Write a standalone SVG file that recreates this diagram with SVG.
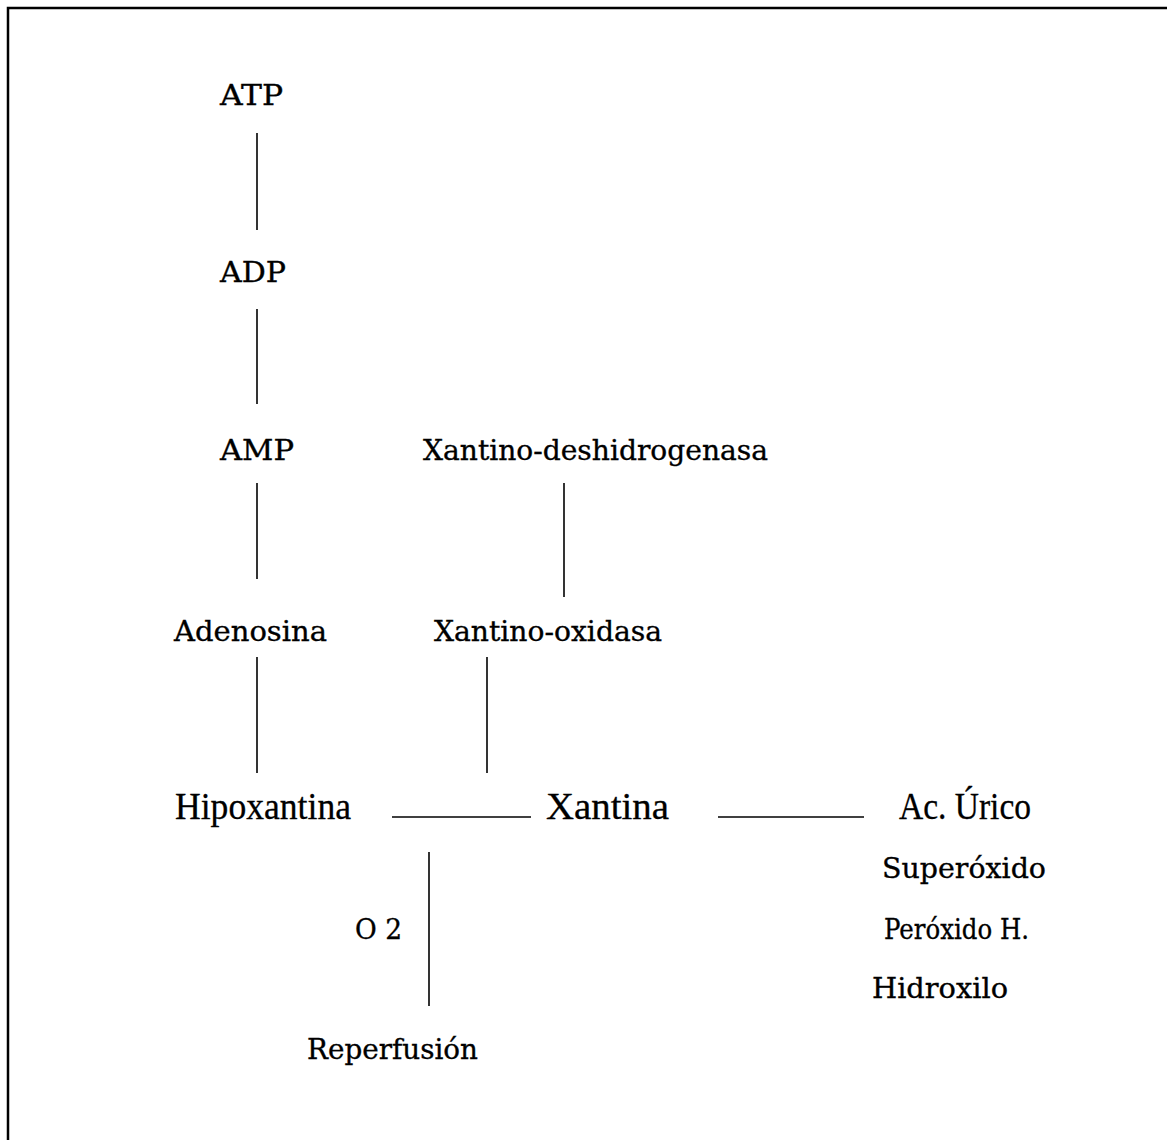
<svg xmlns="http://www.w3.org/2000/svg" width="1167" height="1140" viewBox="0 0 1167 1140">
<style>
.t{font-family:"DejaVu Serif","Liberation Serif",serif;font-size:28.5px;fill:#000;stroke:#000;stroke-width:0.35}
.c{font-family:"Liberation Serif",serif;font-size:37px;fill:#000;stroke:#000;stroke-width:0.3}
.l{stroke:#000;stroke-width:1.6;fill:none}
.b{stroke:#000;stroke-width:2.5;fill:none}
</style>
<rect width="1167" height="1140" fill="#fff"/>
<path class="b" d="M8 1140 V8 H1167"/>
<g id="connectors">
<line class="l" x1="257" y1="133" x2="257" y2="230"/>
<line class="l" x1="257" y1="309" x2="257" y2="404"/>
<line class="l" x1="257" y1="483" x2="257" y2="579"/>
<line class="l" x1="257" y1="657" x2="257" y2="773"/>
<line class="l" x1="564" y1="483" x2="564" y2="597"/>
<line class="l" x1="487" y1="657" x2="487" y2="773"/>
<line class="l" x1="429" y1="852" x2="429" y2="1006"/>
<line class="l" x1="392" y1="817" x2="531" y2="817"/>
<line class="l" x1="718" y1="817" x2="864" y2="817"/>
</g>
<g id="atp"><text class="t" x="220" y="105" textLength="63" lengthAdjust="spacingAndGlyphs">ATP</text></g>
<g id="adp"><text class="t" x="220" y="282" textLength="66" lengthAdjust="spacingAndGlyphs">ADP</text></g>
<g id="amp"><text class="t" x="220" y="460" textLength="74" lengthAdjust="spacingAndGlyphs">AMP</text></g>
<g id="xdh"><text class="t" x="423" y="460" textLength="345" lengthAdjust="spacingAndGlyphs">Xantino-deshidrogenasa</text></g>
<g id="adenosina"><text class="t" x="174" y="641" textLength="153" lengthAdjust="spacingAndGlyphs">Adenosina</text></g>
<g id="xo"><text class="t" x="434" y="641" textLength="228" lengthAdjust="spacingAndGlyphs">Xantino-oxidasa</text></g>
<g id="hipoxantina"><text class="c" x="175" y="819" textLength="176" lengthAdjust="spacingAndGlyphs">Hipoxantina</text></g>
<g id="xantina"><text class="c" x="546" y="819" textLength="123" lengthAdjust="spacingAndGlyphs">Xantina</text></g>
<g id="urico"><text class="c" x="899" y="819" textLength="132" lengthAdjust="spacingAndGlyphs">Ac. Úrico</text></g>
<g id="superoxido"><text class="t" x="882" y="878" textLength="164" lengthAdjust="spacingAndGlyphs">Superóxido</text></g>
<g id="peroxido"><text class="t" x="884" y="939" textLength="145" lengthAdjust="spacingAndGlyphs">Peróxido H.</text></g>
<g id="hidroxilo"><text class="t" x="872" y="998" textLength="136" lengthAdjust="spacingAndGlyphs">Hidroxilo</text></g>
<g id="o2"><text class="t" x="355" y="939" textLength="47" lengthAdjust="spacingAndGlyphs">O 2</text></g>
<g id="reperfusion"><text class="t" x="307" y="1059" textLength="171" lengthAdjust="spacingAndGlyphs">Reperfusión</text></g>
</svg>
